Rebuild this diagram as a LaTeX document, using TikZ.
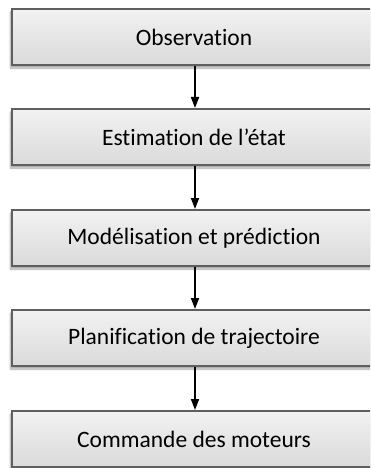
\documentclass[tikz,border=0pt]{standalone}
\usepackage{fontspec}
\setmainfont{Carlito}[Ligatures=NoCommon]
\usetikzlibrary{arrows.meta,shadows.blur}
\definecolor{boxedge}{HTML}{5F5F5F}
\definecolor{boxtop}{HTML}{F2F2F2}
\definecolor{boxbot}{HTML}{DADADA}
\tikzset{
  stage/.style={draw=boxedge, line width=2pt, top color=boxtop, bottom color=boxbot,
    minimum width=364pt, minimum height=56pt, inner sep=0pt,
    font=\fontsize{23.5pt}{28pt}\selectfont,
    blur shadow={shadow xshift=-1.5pt, shadow yshift=-3pt, shadow blur steps=6, shadow opacity=35}},
  flow/.style={line width=1.8pt, -{Triangle[length=11pt,width=8pt]}}
}
\begin{document}
\begin{tikzpicture}[x=1pt,y=1pt]
  \useasboundingbox (0,0) rectangle (370,-468);
  \begin{scope}
    \clip (0,0) rectangle (370,-468);
    \node[stage] (obs)  at (194,-37)  {Observation};
    \node[stage] (est)  at (194,-137) {Estimation de l’état};
    \node[stage] (mod)  at (194,-238) {Modélisation et prédiction};
    \node[stage] (plan) at (194,-338) {Planification de trajectoire};
    \node[stage] (cmd)  at (194,-439) {Commande des moteurs};
    \draw[flow] (obs.south -| 195,0)  -- (est.north -| 195,0);
    \draw[flow] (est.south -| 195,0)  -- (mod.north -| 195,0);
    \draw[flow] (mod.south -| 195,0)  -- (plan.north -| 195,0);
    \draw[flow] (plan.south -| 195,0) -- (cmd.north -| 195,0);
  \end{scope}
\end{tikzpicture}
\end{document}
